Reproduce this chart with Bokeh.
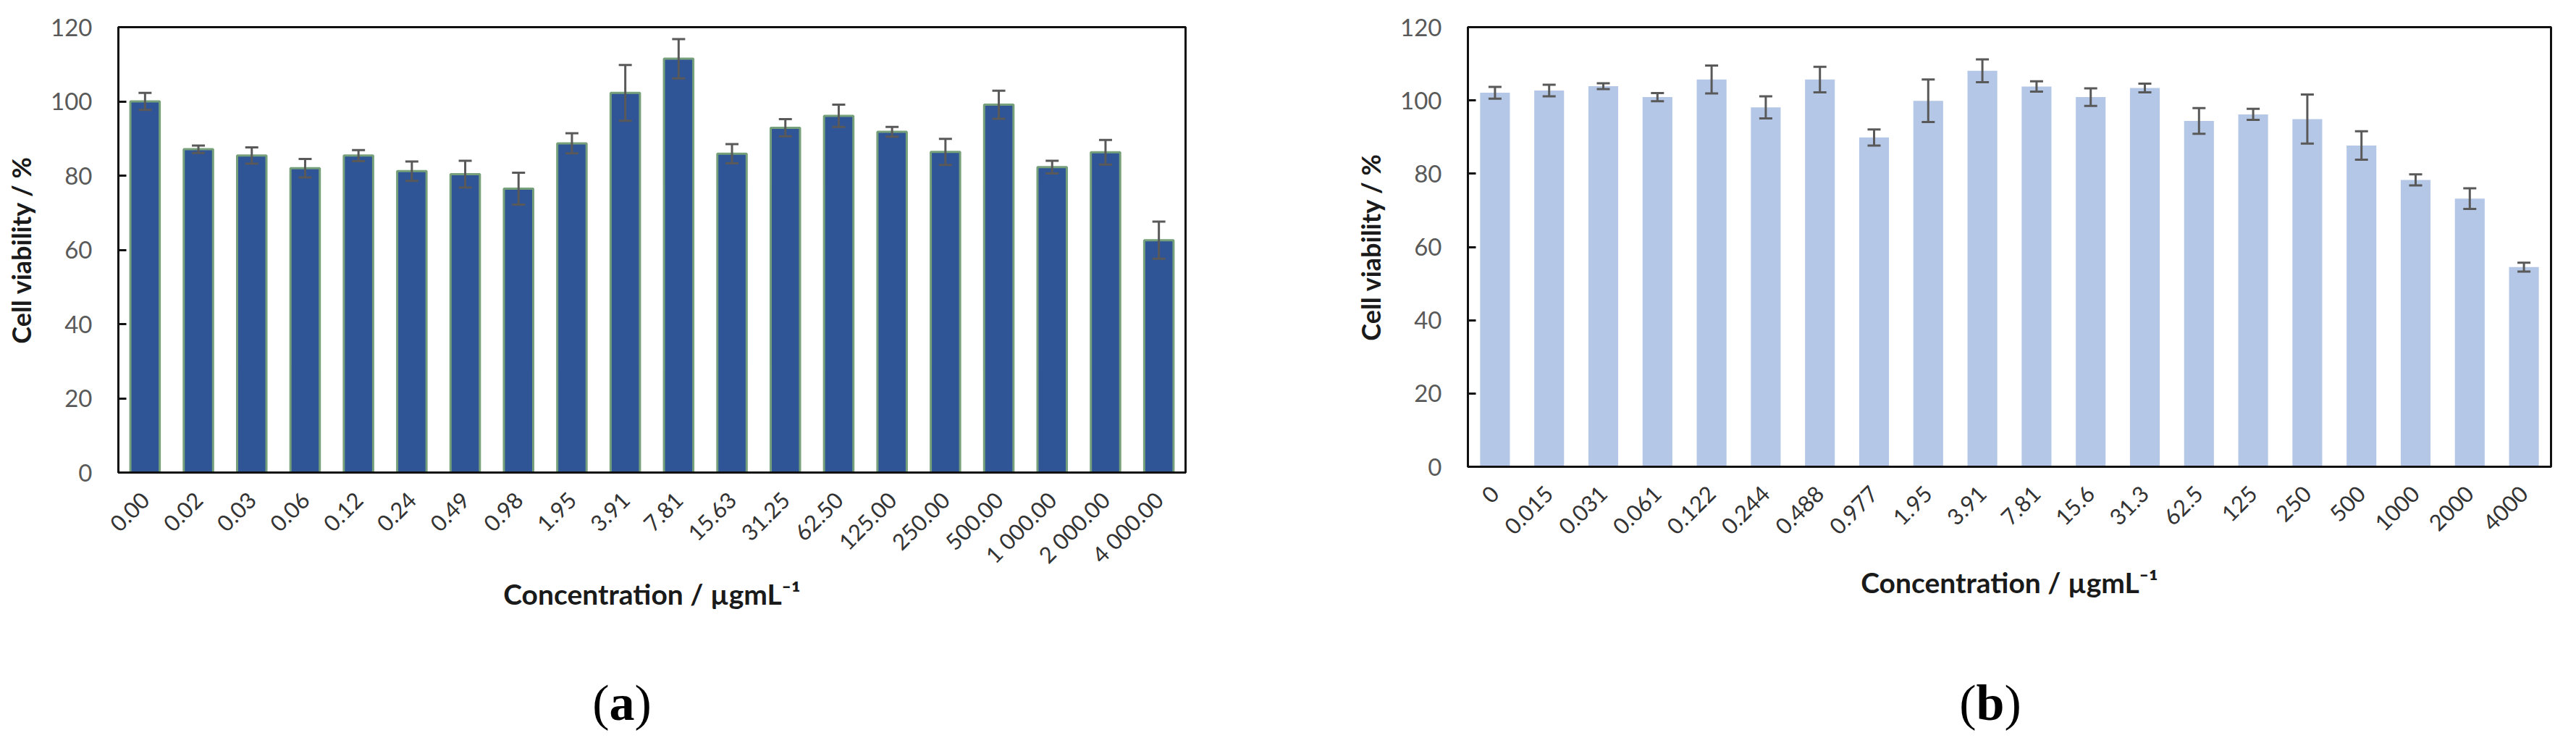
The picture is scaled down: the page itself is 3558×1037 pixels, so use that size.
import math
from bokeh.plotting import figure
from bokeh.models import (ColumnDataSource, Whisker, TeeHead, Range1d,
                          FactorRange, SingleIntervalTicker, Div)
from bokeh.layouts import row, column
from bokeh.embed import file_html
from bokeh.resources import INLINE

# ---------------- data ----------------
conc_a = ["0.00", "0.02", "0.03", "0.06", "0.12", "0.24", "0.49", "0.98", "1.95", "3.91",
          "7.81", "15.63", "31.25", "62.50", "125.00", "250.00", "500.00", "1 000.00",
          "2 000.00", "4 000.00"]
viab_a = [100.0, 87.1, 85.4, 82.0, 85.4, 81.2, 80.4, 76.5, 88.7, 102.3,
          111.5, 85.9, 92.9, 96.1, 91.8, 86.4, 99.1, 82.3, 86.3, 62.6]
err_a = [2.3, 1.0, 2.2, 2.5, 1.5, 2.6, 3.6, 4.3, 2.7, 7.5,
         5.3, 2.6, 2.3, 3.0, 1.3, 3.5, 3.8, 1.7, 3.3, 5.0]

conc_b = ["0", "0.015", "0.031", "0.061", "0.122", "0.244", "0.488", "0.977", "1.95", "3.91",
          "7.81", "15.6", "31.3", "62.5", "125", "250", "500", "1000", "2000", "4000"]
viab_b = [102.1, 102.7, 103.9, 100.9, 105.7, 98.1, 105.7, 89.9, 99.9, 108.1,
          103.8, 100.9, 103.4, 94.4, 96.2, 94.9, 87.7, 78.3, 73.2, 54.5]
err_b = [1.6, 1.6, 0.8, 1.1, 3.8, 3.0, 3.5, 2.2, 5.8, 3.1,
         1.4, 2.4, 1.2, 3.5, 1.5, 6.7, 3.9, 1.5, 2.8, 1.2]

y_label = "Cell viability / %"
x_label = "Concentration / µgmL⁻¹"
captions = ["a", "b"]
y_ticks_interval = 20
y_max = 120

FIG_H = 918


def make_panel(labels, vals, errs, fill, edge, edge_w, frame_w, frame_h, left, right,
               title_standoff):
    src = ColumnDataSource(dict(
        x=labels, y=vals,
        upper=[v + e for v, e in zip(vals, errs)],
        lower=[v - e for v, e in zip(vals, errs)]))
    top_border = 37
    bottom_border = FIG_H - top_border - frame_h
    p = figure(x_range=FactorRange(factors=labels), y_range=Range1d(0, y_max),
               frame_width=frame_w, frame_height=frame_h,
               min_border_left=left, min_border_right=right,
               min_border_top=top_border, min_border_bottom=bottom_border,
               output_backend="svg", toolbar_location=None)
    p.vbar(x="x", top="y", width=0.55, source=src, fill_color=fill,
           line_color=edge, line_width=edge_w)
    wh = Whisker(source=src, base="x", upper="upper", lower="lower",
                 line_color="#595959", line_width=3, level="overlay",
                 upper_head=TeeHead(size=18, line_color="#595959", line_width=3),
                 lower_head=TeeHead(size=18, line_color="#595959", line_width=3))
    p.add_layout(wh)

    p.grid.visible = False
    p.background_fill_color = "white"
    p.border_fill_color = "white"
    p.outline_line_color = "#111111"
    p.outline_line_width = 3
    p.outline_line_alpha = 1.0

    # y axis
    p.yaxis.ticker = SingleIntervalTicker(interval=y_ticks_interval)
    p.yaxis.axis_line_color = "#111111"
    p.yaxis.axis_line_width = 3
    p.yaxis.major_tick_in = 11
    p.yaxis.major_tick_out = 0
    p.yaxis.major_tick_line_color = "#111111"
    p.yaxis.major_tick_line_width = 3
    p.yaxis.minor_tick_line_color = None
    p.yaxis.major_label_text_font = "Lato"
    p.yaxis.major_label_text_font_size = "33px"
    p.yaxis.major_label_text_color = "#595959"
    p.yaxis.major_label_standoff = 32
    p.yaxis.axis_label = y_label
    p.yaxis.axis_label_text_font = "Lato"
    p.yaxis.axis_label_text_font_style = "bold"
    p.yaxis.axis_label_text_font_size = "36px"
    p.yaxis.axis_label_text_color = "#1a1a1a"
    p.yaxis.axis_label_standoff = 16

    # x axis
    p.xaxis.axis_line_color = "#111111"
    p.xaxis.axis_line_width = 3
    p.xaxis.major_tick_line_color = None
    p.xaxis.minor_tick_line_color = None
    p.xaxis.major_label_orientation = math.pi / 4
    p.xaxis.major_label_text_font = "Lato"
    p.xaxis.major_label_text_font_size = "31px"
    p.xaxis.major_label_text_color = "#333333"
    p.xaxis.major_label_standoff = 26
    p.xaxis.axis_label = x_label
    p.xaxis.axis_label_text_font = "Lato"
    p.xaxis.axis_label_text_font_style = "bold"
    p.xaxis.axis_label_text_font_size = "39px"
    p.xaxis.axis_label_text_color = "#1a1a1a"
    p.xaxis.axis_label_standoff = title_standoff
    return p


def caption(letter, width, shift):
    html = ('<div style="position:relative; left:%dpx; width:%dpx; text-align:center; '
            'font-family:\'Liberation Serif\', serif; font-size:70px; line-height:95px; '
            'color:#000;">(<b>%s</b>)</div>' % (shift, width, letter))
    return Div(text=html, width=width, height=95)


pa = make_panel(conc_a, viab_a, err_a, "#2F5597", "#76A07A", 3,
                1474, 615, 163, 145, -4)
pb = make_panel(conc_b, viab_b, err_b, "#B4C7E7", None, 0,
                1496, 607, 245, 19, 30)

cap_a = caption(captions[0], 1782, -37)
cap_b = caption(captions[1], 1760, 72)

layout = column(row(pa, pb), row(cap_a, cap_b))
open("out.html", "w").write(file_html(layout, INLINE))
